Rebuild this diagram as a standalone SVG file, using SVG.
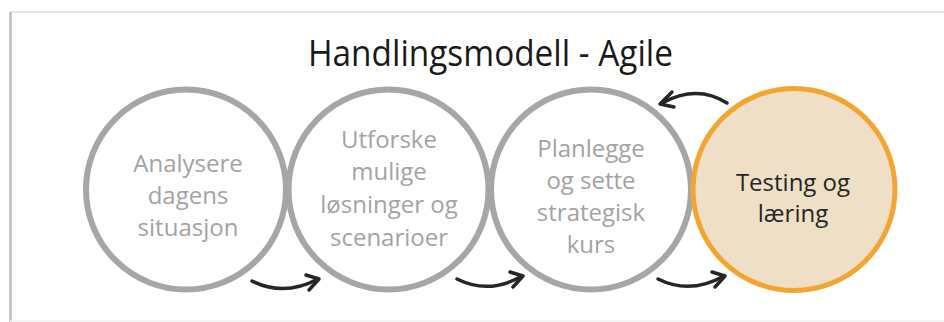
<svg xmlns="http://www.w3.org/2000/svg" width="944" height="322" viewBox="0 0 944 322">
  <defs>
    <filter id="soft" x="-10%" y="-10%" width="120%" height="120%">
      <feGaussianBlur stdDeviation="0.6"/>
    </filter>
    <style>
      .ring { fill: #ffffff; stroke: #a6a6a6; stroke-width: 6; }
      .ring-active { fill: #eedfc6; stroke: #f3a530; stroke-width: 5; }
      .lbl { font-family: "Open Sans", "Noto Sans", "Liberation Sans", sans-serif; font-size: 24px; text-anchor: middle; fill: #a3a3a3; }
      .lbl-active { fill: #262626; }
      .title { font-family: "Open Sans", "Noto Sans", "Liberation Sans", sans-serif; font-size: 37px; fill: #1a1a1a; }
      .arrow { fill: none; stroke: #262626; stroke-width: 3.5; stroke-linecap: round; stroke-linejoin: round; }
      .frame-l { stroke: #bdbdbd; stroke-width: 2.5; }
      .frame-t { stroke: #e4e4e4; stroke-width: 2; }
    </style>
  </defs>
  <rect width="944" height="322" fill="#ffffff"/>
  <g id="frame">
    <line class="frame-t" x1="10" y1="12" x2="944" y2="12"/>
    <line class="frame-l" x1="10.5" y1="12" x2="10.5" y2="322"/>
    <line x1="10" y1="321" x2="944" y2="321" stroke="#f0f0f0" stroke-width="1.5"/>
  </g>
  <g id="title">
    <text class="title" x="308" y="66" textLength="365" lengthAdjust="spacingAndGlyphs">Handlingsmodell - Agile</text>
  </g>
  <g id="node1">
    <circle class="ring" cx="186" cy="189.5" r="100" filter="url(#soft)"/>
    <text class="lbl" x="188" y="172">Analysere</text>
    <text class="lbl" x="188" y="204">dagens</text>
    <text class="lbl" x="188" y="236">situasjon</text>
  </g>
  <g id="node2">
    <circle class="ring" cx="388.5" cy="189.5" r="100" filter="url(#soft)"/>
    <text class="lbl" x="389" y="148">Utforske</text>
    <text class="lbl" x="389" y="180">mulige</text>
    <text class="lbl" x="389" y="213">løsninger og</text>
    <text class="lbl" x="389" y="246">scenarioer</text>
  </g>
  <g id="node3">
    <circle class="ring" cx="591" cy="189.5" r="100" filter="url(#soft)"/>
    <text class="lbl" x="591" y="157">Planlegge</text>
    <text class="lbl" x="591" y="189">og sette</text>
    <text class="lbl" x="591" y="221">strategisk</text>
    <text class="lbl" x="591" y="253">kurs</text>
  </g>
  <g id="node4">
    <circle class="ring-active" cx="794" cy="189.5" r="101" filter="url(#soft)"/>
    <text class="lbl lbl-active" x="793" y="191">Testing og</text>
    <text class="lbl lbl-active" x="793" y="222">læring</text>
  </g>
  <g id="connectors">
    <path class="arrow" d="M252,281 Q284,297 318,279"/>
    <path class="arrow" d="M306,275 L319,279 L309,290"/>
    <path class="arrow" d="M457,279 Q489,295 522,276"/>
    <path class="arrow" d="M510,272 L523,276 L513,287"/>
    <path class="arrow" d="M658,279 Q690,295 724,276"/>
    <path class="arrow" d="M712,272 L725,276 L715,287"/>
    <path class="arrow" d="M727,103 Q697,84 662,103"/>
    <path class="arrow" d="M672,92 L660,104 L674,107"/>
  </g>
</svg>
